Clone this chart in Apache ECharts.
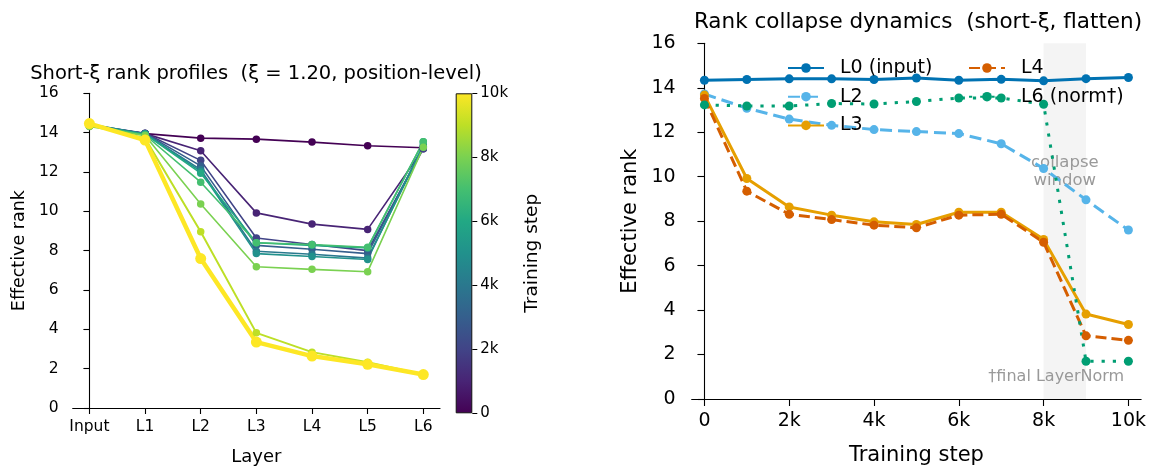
<!DOCTYPE html>
<html>
<head>
<meta charset="utf-8">
<script src="https://cdn.jsdelivr.net/npm/echarts@6/dist/echarts.min.js"></script>
<style>
  html, body { margin: 0; padding: 0; background: #fff; }
  #chart { width: 1149px; height: 471px; }
</style>
</head>
<body>
<div id="chart"></div>
<script>
// ---- Left panel: effective rank per layer, one profile per training step ----
const layerNames = ['Input', 'L1', 'L2', 'L3', 'L4', 'L5', 'L6'];
const profileSteps = [0, 1000, 2000, 3000, 4000, 5000, 6000, 7000, 8000, 9000, 10000];
const profileStep0k  = [14.34, 13.95, 13.72, 13.67, 13.52, 13.33, 13.23];
const profileStep1k  = [14.37, 13.95, 13.08, 9.92, 9.35, 9.08, 13.18];
const profileStep2k  = [14.40, 13.97, 12.59, 8.64, 8.31, 8.00, 13.18];
const profileStep3k  = [14.40, 13.96, 12.31, 8.27, 8.07, 7.85, 13.29];
const profileStep4k  = [14.37, 13.94, 12.12, 7.97, 7.82, 7.62, 13.27];
const profileStep5k  = [14.44, 13.93, 12.03, 7.85, 7.70, 7.55, 13.38];
const profileStep6k  = [14.34, 13.92, 11.94, 8.40, 8.27, 8.14, 13.54];
const profileStep7k  = [14.38, 13.88, 11.48, 8.40, 8.31, 8.17, 13.54];
const profileStep8k  = [14.31, 13.85, 10.37, 7.18, 7.05, 6.93, 13.26];
const profileStep9k  = [14.41, 13.72, 8.96, 3.82, 2.84, 2.33, 1.70];
const profileStep10k = [14.46, 13.62, 7.60, 3.35, 2.64, 2.22, 1.70];
const profiles = [profileStep0k, profileStep1k, profileStep2k, profileStep3k, profileStep4k,
                  profileStep5k, profileStep6k, profileStep7k, profileStep8k, profileStep9k, profileStep10k];

// ---- Right panel: effective rank over training for selected layers ----
const trainSteps = [0, 1000, 2000, 3000, 4000, 5000, 6000, 7000, 8000, 9000, 10000];
const rankL0 = [14.34, 14.37, 14.40, 14.40, 14.37, 14.44, 14.34, 14.38, 14.31, 14.41, 14.46];
const rankL2 = [13.72, 13.08, 12.59, 12.31, 12.12, 12.03, 11.94, 11.48, 10.37, 8.96, 7.60];
const rankL3 = [13.67, 9.92, 8.64, 8.27, 7.97, 7.85, 8.40, 8.40, 7.18, 3.82, 3.35];
const rankL4 = [13.52, 9.35, 8.31, 8.07, 7.82, 7.70, 8.27, 8.31, 7.05, 2.84, 2.64];
const rankL6 = [13.23, 13.18, 13.18, 13.29, 13.27, 13.38, 13.54, 13.54, 13.26, 1.70, 1.70];

// tick values
const rankTicks = [0, 2, 4, 6, 8, 10, 12, 14, 16];
const stepTicks = [0, 2000, 4000, 6000, 8000, 10000];
const collapseWindow = [8000, 9000];

const FONT = 'DejaVu Sans';
const INK = '#000';
const viridis = ['#440154', '#482475', '#414487', '#355f8d', '#2a788e', '#21918c',
                 '#22a884', '#44bf70', '#7ad151', '#bddf26', '#fde725'];
const kfmt = v => (v === 0 ? '0' : (v / 1000) + 'k');

const chart = echarts.init(document.getElementById('chart'), null, { renderer: 'canvas' });

function valueAxisBase(fontSize, tickLen, margin) {
  return {
    axisLine: { show: true, lineStyle: { color: INK, width: 1.1 } },
    axisTick: { show: true, inside: false, length: tickLen, lineStyle: { color: INK, width: 1.1 } },
    axisLabel: { color: INK, fontFamily: FONT, fontSize: fontSize, margin: margin },
    splitLine: { show: false },
    nameTextStyle: { color: INK, fontFamily: FONT }
  };
}

// left panel series
const profileSeries = profiles.map((vals, i) => {
  const last = i === profiles.length - 1;
  return {
    type: 'line',
    xAxisIndex: 0,
    yAxisIndex: 0,
    data: vals.map((v, j) => [j, v]),
    symbol: 'circle',
    symbolSize: last ? 11 : 7.5,
    color: viridis[Math.round(profileSteps[i] / 1000)],
    lineStyle: { width: last ? 4.5 : (i === 9 ? 2 : 1.6) },
    silent: true
  };
});

function stepSeries(name, vals, color, type, extra) {
  return Object.assign({
    name: name,
    type: 'line',
    xAxisIndex: 1,
    yAxisIndex: 1,
    data: trainSteps.map((s, j) => [s, vals[j]]),
    symbol: 'circle',
    symbolSize: 9,
    color: color,
    lineStyle: { width: 3, type: type, cap: 'butt' },
    silent: true
  }, extra || {});
}

const rightSeries = [
  stepSeries('L0 (input)', rankL0, '#0072B2', 'solid', {
    markArea: {
      silent: true,
      itemStyle: { color: 'rgba(128,128,128,0.09)' },
      label: {
        show: true,
        position: ['50%', 110],
        align: 'center',
        verticalAlign: 'top',
        color: '#999',
        fontFamily: FONT,
        fontSize: 16.5,
        lineHeight: 18.5,
        formatter: 'collapse\nwindow'
      },
      data: [[{ xAxis: collapseWindow[0] }, { xAxis: collapseWindow[1] }]]
    }
  }),
  stepSeries('L2', rankL2, '#56B4E9', [12, 6]),
  stepSeries('L3', rankL3, '#E69F00', 'solid'),
  stepSeries('L4', rankL4, '#D55E00', [11, 5]),
  stepSeries('L6 (norm†)', rankL6, '#009E73', [3.2, 8], {
    markPoint: {
      silent: true,
      symbol: 'circle',
      symbolSize: 0.01,
      itemStyle: { color: 'rgba(0,0,0,0)' },
      label: {
        show: true,
        position: 'inside',
        align: 'right',
        verticalAlign: 'middle',
        color: '#999',
        fontFamily: FONT,
        fontSize: 16,
        formatter: '†final LayerNorm'
      },
      data: [{ coord: [9900, 1.0] }]
    }
  })
];

// colour bar drawn as a single bar filled with the step colour ramp
const colorbarSeries = {
  type: 'bar',
  xAxisIndex: 2,
  yAxisIndex: 2,
  data: [profileSteps[profileSteps.length - 1]],
  barWidth: '100%',
  silent: true,
  itemStyle: {
    color: new echarts.graphic.LinearGradient(0, 1, 0, 0,
      viridis.map((c, i) => ({ offset: i / (viridis.length - 1), color: c }))),
    borderColor: '#111',
    borderWidth: 1
  }
};

const legendText = { color: INK, fontFamily: FONT, fontSize: 19, lineHeight: 20, padding: [0, 0, 0, 11] };

const option = {
  animation: false,
  backgroundColor: '#fff',
  grid: [
    { left: 72.7, top: 93.3, width: 367.3, height: 320 },
    { left: 691.7, top: 43.3, width: 452.3, height: 361 },
    { left: 455.7, top: 93.3, width: 16.6, height: 320 }
  ],
  xAxis: [
    Object.assign(valueAxisBase(15.5, 6, 11), {
      type: 'value', gridIndex: 0, min: -0.3, max: 6.3,
      axisTick: { show: true, length: 6, lineStyle: { color: INK, width: 1.1 }, customValues: [0, 1, 2, 3, 4, 5, 6] },
      axisLabel: { color: INK, fontFamily: FONT, fontSize: 15.5, margin: 11,
                   customValues: [0, 1, 2, 3, 4, 5, 6], formatter: v => layerNames[v] },
      name: 'Layer', nameLocation: 'middle', nameGap: 40,
      nameTextStyle: { color: INK, fontFamily: FONT, fontSize: 18 }
    }),
    Object.assign(valueAxisBase(19, 7, 13), {
      type: 'value', gridIndex: 1, min: -300, max: 10300,
      axisTick: { show: true, length: 7, lineStyle: { color: INK, width: 1.1 }, customValues: stepTicks },
      axisLabel: { color: INK, fontFamily: FONT, fontSize: 19, margin: 13,
                   customValues: stepTicks, formatter: kfmt },
      name: 'Training step', nameLocation: 'middle', nameGap: 46,
      nameTextStyle: { color: INK, fontFamily: FONT, fontSize: 21 }
    }),
    { type: 'category', gridIndex: 2, data: [''], show: false }
  ],
  yAxis: [
    Object.assign(valueAxisBase(15.5, 6, 14), {
      type: 'value', gridIndex: 0, min: rankTicks[0], max: rankTicks[rankTicks.length - 1], interval: 2,
      name: 'Effective rank', nameLocation: 'middle', nameGap: 44,
      nameTextStyle: { color: INK, fontFamily: FONT, fontSize: 17.5 }
    }),
    Object.assign(valueAxisBase(19, 7, 16), {
      type: 'value', gridIndex: 1, min: rankTicks[0], max: rankTicks[rankTicks.length - 1], interval: 2,
      name: 'Effective rank', nameLocation: 'middle', nameGap: 51,
      nameTextStyle: { color: INK, fontFamily: FONT, fontSize: 21 }
    }),
    {
      type: 'value', gridIndex: 2, position: 'right', min: 0, max: 10000, interval: 2000,
      axisLine: { show: false },
      axisTick: { show: true, length: 5, lineStyle: { color: INK, width: 1 } },
      axisLabel: { color: INK, fontFamily: FONT, fontSize: 15, margin: 8, formatter: kfmt },
      splitLine: { show: false },
      name: 'Training step', nameLocation: 'middle', nameRotate: 90, nameGap: 50,
      nameTextStyle: { color: INK, fontFamily: FONT, fontSize: 18.5 }
    }
  ],
  legend: [
    { data: ['L0 (input)', 'L2', 'L3'], orient: 'vertical', left: 787, top: 58, padding: 0,
      itemWidth: 36, itemHeight: 12, itemGap: 8.7, textStyle: legendText, selectedMode: false },
    { data: ['L4', 'L6 (norm†)'], orient: 'vertical', left: 968, top: 58, padding: 0,
      itemWidth: 36, itemHeight: 12, itemGap: 8.7, textStyle: legendText, selectedMode: false }
  ],
  graphic: [
    { type: 'text', x: 256, y: 74, silent: true,
      style: { text: 'Short-ξ rank profiles  (ξ = 1.20, position-level)', fill: INK,
               font: '19.5px "DejaVu Sans"', textAlign: 'center', textVerticalAlign: 'middle' } },
    { type: 'text', x: 918, y: 22.5, silent: true,
      style: { text: 'Rank collapse dynamics  (short-ξ, flatten)', fill: INK,
               font: '21.5px "DejaVu Sans"', textAlign: 'center', textVerticalAlign: 'middle' } }
  ],
  series: profileSeries.concat(rightSeries, [colorbarSeries])
};

chart.setOption(option);
</script>
</body>
</html>
